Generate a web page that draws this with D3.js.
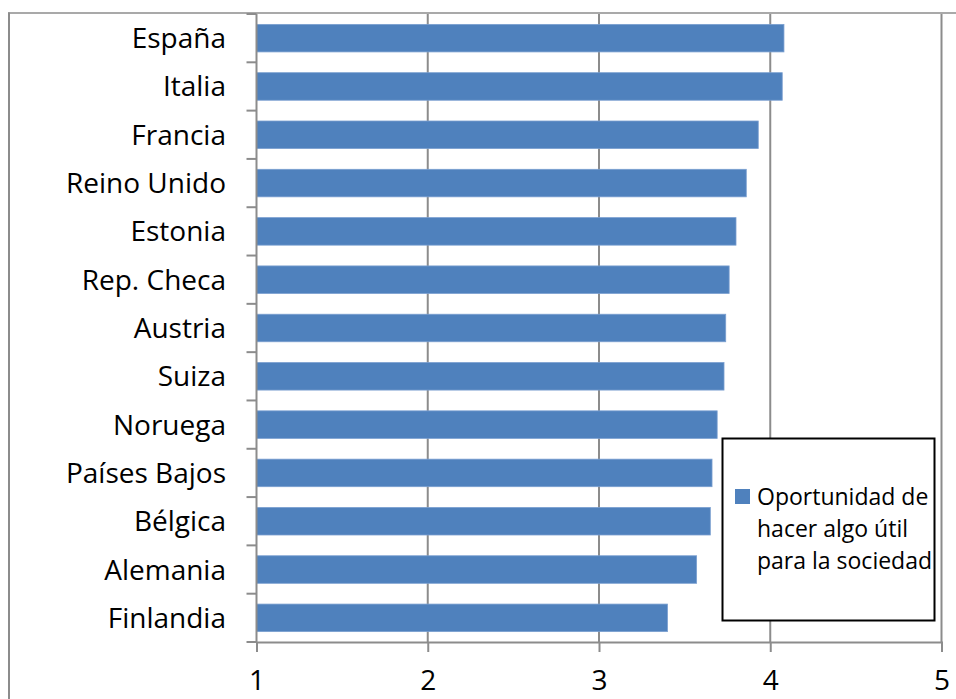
<!DOCTYPE html>
<html>
<head>
<meta charset="utf-8">
<script src="https://cdnjs.cloudflare.com/ajax/libs/d3/7.8.5/d3.min.js"></script>
<style>
  body { margin: 0; background: #fff; }
  svg { display: block; }
  text { font-family: "Open Sans", sans-serif; fill: #000; }
</style>
</head>
<body>
<svg id="chart" width="956" height="699"></svg>
<script>
// countries, top to bottom
var paises = ["España", "Italia", "Francia", "Reino Unido", "Estonia", "Rep. Checa",
  "Austria", "Suiza", "Noruega", "Países Bajos", "Bélgica", "Alemania", "Finlandia"];
// Oportunidad de hacer algo útil para la sociedad (scale 1-5)
var valores = [4.08, 4.07, 3.93, 3.86, 3.80, 3.76, 3.74, 3.73, 3.69, 3.66, 3.65, 3.57, 3.40];
var xTicks = [1, 2, 3, 4, 5];
var leyenda = ["Oportunidad de", "hacer algo útil", "para la sociedad"];

var data = paises.map(function(p, i) { return {pais: p, v: valores[i]}; });

var svg = d3.select("#chart");
var azul = "#4f81bd", gris = "#8c8c8c";

var top_ = 14, bottom = 642, left = 256.5, right = 941.5;

var x = d3.scaleLinear().domain([1, 5]).range([left, right]);
var y = d3.scaleBand().domain(paises).range([top_, bottom])
  .paddingInner(0.43).paddingOuter(0.215);

// outer frame (only top and left show in the window)
svg.append("line")
  .attr("x1", 8).attr("x2", 956).attr("y1", 13).attr("y2", 13)
  .attr("stroke", gris).attr("stroke-width", 1.5);
svg.append("line")
  .attr("x1", 9).attr("x2", 9).attr("y1", 12.5).attr("y2", 699)
  .attr("stroke", gris).attr("stroke-width", 2);

// vertical gridlines
svg.append("g").selectAll("line")
  .data(xTicks.slice(1))
  .join("line")
  .attr("x1", function(d) { return x(d); }).attr("x2", function(d) { return x(d); })
  .attr("y1", top_).attr("y2", bottom)
  .attr("stroke", gris).attr("stroke-width", 2);

// bars
svg.append("g").selectAll("rect")
  .data(data)
  .join("rect")
  .attr("x", x(1))
  .attr("y", function(d) { return y(d.pais); })
  .attr("width", function(d) { return x(d.v) - x(1); })
  .attr("height", y.bandwidth())
  .attr("fill", azul)
  .attr("stroke", "#7a9fd0").attr("stroke-width", 0.8);

// x axis
var xAxis = svg.append("g")
  .attr("transform", "translate(0," + bottom + ")")
  .call(d3.axisBottom(x).tickValues(xTicks).tickSize(10).tickPadding(18).tickFormat(d3.format("d")));
xAxis.select(".domain").attr("stroke", gris).attr("stroke-width", 2);
xAxis.selectAll(".tick line").attr("stroke", gris).attr("stroke-width", 2);
xAxis.selectAll(".tick text").attr("font-size", 28).attr("font-family", "Open Sans").attr("fill", "#000");

// y axis: labels at band centres, ticks at band boundaries
var gap = (y.step() - y.bandwidth()) / 2;
var bordes = paises.map(function(p) { return y(p) - gap; });
bordes.push(bottom);

var yAxis = svg.append("g");
yAxis.append("line")
  .attr("x1", left).attr("x2", left).attr("y1", top_).attr("y2", bottom)
  .attr("stroke", gris).attr("stroke-width", 2);
yAxis.selectAll("line.tk")
  .data(bordes)
  .join("line").attr("class", "tk")
  .attr("x1", left - 10).attr("x2", left)
  .attr("y1", function(d) { return d; }).attr("y2", function(d) { return d; })
  .attr("stroke", gris).attr("stroke-width", 2);
yAxis.selectAll("text")
  .data(paises)
  .join("text")
  .attr("x", 226)
  .attr("y", function(d) { return y(d) + y.bandwidth() / 2 + 10; })
  .attr("text-anchor", "end")
  .attr("font-size", 28)
  .text(function(d) { return d; });

// legend
var lg = svg.append("g");
lg.append("rect")
  .attr("x", 722.5).attr("y", 438.5).attr("width", 212).attr("height", 182)
  .attr("fill", "#fff").attr("stroke", "#000").attr("stroke-width", 2);
lg.append("rect")
  .attr("x", 735).attr("y", 489).attr("width", 15).attr("height", 15)
  .attr("fill", azul);
lg.selectAll("text")
  .data(leyenda)
  .join("text")
  .attr("x", 757)
  .attr("y", function(d, i) { return 505 + i * 32; })
  .attr("font-size", 23)
  .text(function(d) { return d; });
</script>
</body>
</html>
